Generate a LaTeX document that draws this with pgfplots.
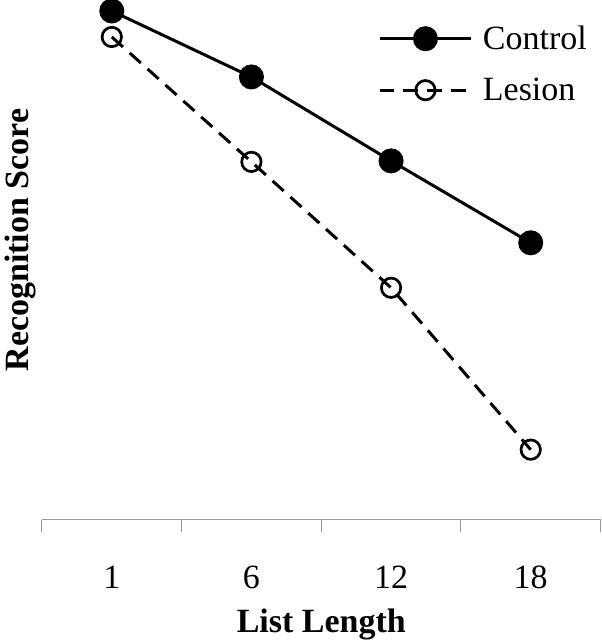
\documentclass[border=0pt]{standalone}
\usepackage{fontspec}
\setmainfont{Liberation Serif}
\usepackage{pgfplots}
\pgfplotsset{compat=1.18}
\begin{document}
\begin{tikzpicture}
\begin{axis}[
  scale only axis,
  width=559bp, height=520bp,
  xmin=0.5, xmax=4.5, ymin=0, ymax=520,
  axis x line*=bottom, axis y line*=left,
  y axis line style={draw=none},
  x axis line style={draw=gray!80, line width=1bp, -},
  ytick=\empty,
  xtick={1,2,3,4},
  xticklabels={1,6,12,18},
  minor xtick={0.5,1.5,2.5,3.5,4.5},
  major tick length=0pt,
  minor tick length=12bp,
  xtick align=outside,
  minor x tick style={draw=gray!80, line width=1bp},
  /pgf/number format/assume math mode=true,
  xticklabel style={font=\fontsize{34bp}{40bp}\selectfont, anchor=base, yshift=-69bp, inner sep=0pt},
  xlabel={\textbf{List Length}},
  xlabel style={font=\fontsize{34bp}{40bp}\selectfont, at={(axis description cs:0.5,0)}, anchor=base, yshift=-113bp, inner sep=0pt},
  ylabel={\textbf{Recognition Score}},
  ylabel style={font=\fontsize{34bp}{40bp}\selectfont, at={(axis description cs:-0.0250,0.538)}, anchor=base, inner sep=0pt},
  clip=false,
  legend style={draw=none, fill=none, font=\fontsize{34bp}{40bp}\selectfont,
    at={(axis cs:2.905,494)}, anchor=north west, inner sep=0pt,
    nodes={inner sep=0pt}, column sep=10bp, row sep=27bp},
  legend cell align=left,
  legend image code/.code={\draw[mark repeat=2,mark phase=2,#1] plot coordinates {(0bp,0bp) (46bp,0bp) (92bp,0bp)};},
]
\addplot[black, line width=3bp, mark=*, mark size=11bp, mark options={solid, fill=black}]
  coordinates {(1,509) (2,443) (3,359) (4,277)};
\addlegendentry{Control}
\addplot[black, line width=3bp, dash pattern=on 15bp off 9bp, mark=o, mark size=9.7bp, mark options={solid, line width=2.7bp}]
  coordinates {(1,483) (2,358) (3,232) (4,70)};
\addlegendentry{Lesion}
\path (rel axis cs:0,0.5) ++(-42bp,0pt) (rel axis cs:1,0.5) ++(1bp,0pt);
\end{axis}
\end{tikzpicture}
\end{document}
